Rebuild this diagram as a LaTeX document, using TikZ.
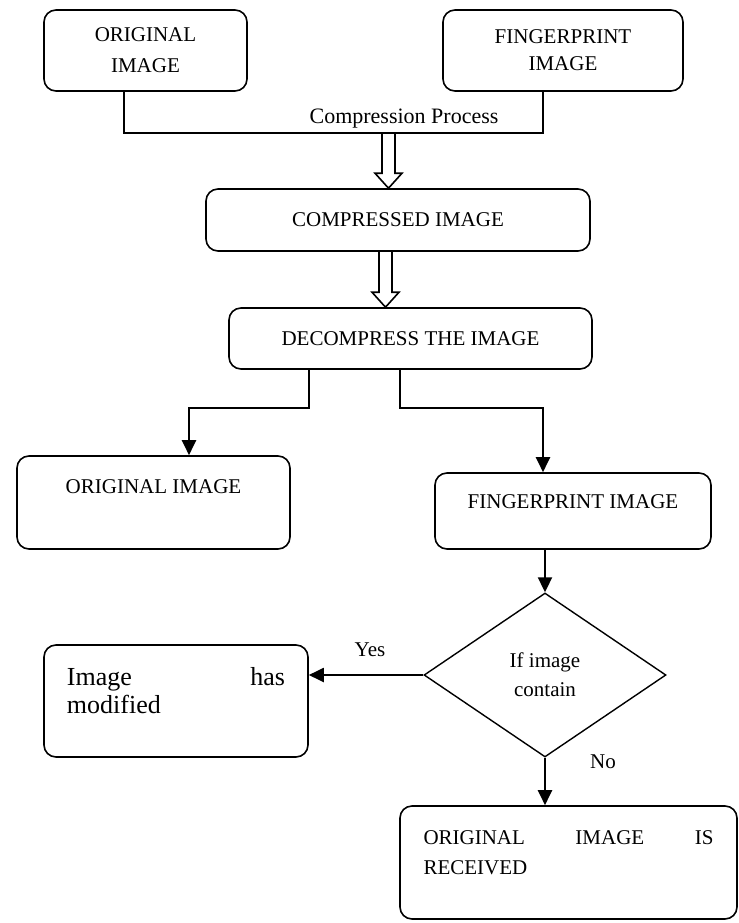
\documentclass[tikz,border=0pt]{standalone}
\usepackage{fontspec}
\setmainfont{Liberation Serif}
\usetikzlibrary{arrows.meta,positioning,shapes.geometric}
\tikzset{
  flowbox/.style={draw, rounded corners=6pt, line width=0.8pt, align=center},
  flowdiamond/.style={draw, diamond, line width=0.7pt, align=center, inner sep=0pt},
  flowline/.style={line width=0.9pt},
  flowarrow/.style={-{Triangle[length=7.5pt,width=7pt]}, line width=1pt},
  hollowline/.style={line width=0.8pt, line join=miter},
  flowlabel/.style={inner sep=1pt},
  flowtext/.style={anchor=north, align=justify, inner sep=0pt}
}
% hollow block arrow pointing down, from #1 (top of shaft) to #2 (tip)
\newcommand{\hollowdown}[2]{%
  \draw[hollowline] ([xshift=-3.25pt]#1) -- ([shift={(-3.25pt,7.5pt)}]#2) -- ++(-3.5pt,0)
    -- (#2) -- ++(6.75pt,7.5pt) -- ++(-3.5pt,0) -- ([xshift=3.25pt]#1);}
\begin{document}
\begin{tikzpicture}[x=0.5pt, y=-0.5pt, font=\fontsize{10.5}{14.5}\selectfont]
    \useasboundingbox (0,0) rectangle (739,923);

    % inputs
    \node[flowbox, minimum width=101.5pt, minimum height=40.5pt, font=\fontsize{10.5}{15.5}\selectfont] (orig) at (145.5,50.5) {ORIGINAL\\IMAGE};
    \node[flowbox, minimum width=120pt, minimum height=40.5pt, font=\fontsize{10.5}{13.5}\selectfont] (fing) at (563,50.5) {FINGERPRINT\\IMAGE};
    \coordinate (join) at (388.5,133);
    \draw[flowline] ([xshift=-10.75pt]orig.south) |- (join) -| ([xshift=-10pt]fing.south);
    \node[flowlabel, font=\fontsize{11}{13}\selectfont] (compress) at (404,119) {Compression Process};

    % compress / decompress
    \node[flowbox, minimum width=192pt, minimum height=31pt] (comp) at (398,220) {COMPRESSED IMAGE};
    \coordinate (tipA) at (join |- comp.north);
    \hollowdown{join}{tipA}
    \node[flowbox, minimum width=181.5pt, minimum height=30.5pt] (decomp) at (410.5,338.5) {DECOMPRESS THE IMAGE};
    \coordinate (topB) at ([xshift=-6.25pt]comp.south);
    \coordinate (tipB) at (topB |- decomp.north);
    \hollowdown{topB}{tipB}

    % outputs
    \node[flowbox, minimum width=136.5pt, minimum height=46.5pt] (origout) at (153.5,502.5) {};
    \node (origouttext) at ([yshift=-15.5pt]origout.north) {ORIGINAL IMAGE};
    \node[flowbox, minimum width=138pt, minimum height=38pt] (fingout) at (573,511) {};
    \node (fingouttext) at ([yshift=-14.5pt]fingout.north) {FINGERPRINT IMAGE};
    \draw[flowarrow] ([xshift=-50.75pt]decomp.south) -- ++(0,38) -| ([xshift=17.75pt]origout.north);
    \draw[flowarrow] ([xshift=-5.25pt]decomp.south) -- ++(0,38) -| ([xshift=-15pt]fingout.north);

    % decision
    \node[flowdiamond, minimum width=121pt, minimum height=82pt] (check) at (545,675) {If image\\contain};
    \draw[flowarrow] (check.north |- fingout.south) -- (check.north);

    \node[flowbox, minimum width=132pt, minimum height=56pt] (modified) at (176,701) {};
    \node[flowtext, text width=109pt, font=\fontsize{13}{14}\selectfont] (modifiedtext)
      at ([yshift=-11.5pt]modified.north) {\noindent Image has\linebreak modified};
    \draw[flowarrow] (check.west) -- (check.west -| modified.east);
    \node[flowlabel] (yes) at (370,650) {Yes};

    \node[flowbox, minimum width=168.5pt, minimum height=56.5pt] (received) at (568.5,862.5) {};
    \node[flowtext, text width=145pt, font=\fontsize{10.5}{15}\selectfont] (receivedtext)
      at ([yshift=-12.5pt]received.north) {\noindent ORIGINAL IMAGE IS\linebreak RECEIVED};
    \draw[flowarrow] (check.south) -- (check.south |- received.north);
    \node[flowlabel] (no) at (603,762) {No};
\end{tikzpicture}
\end{document}
